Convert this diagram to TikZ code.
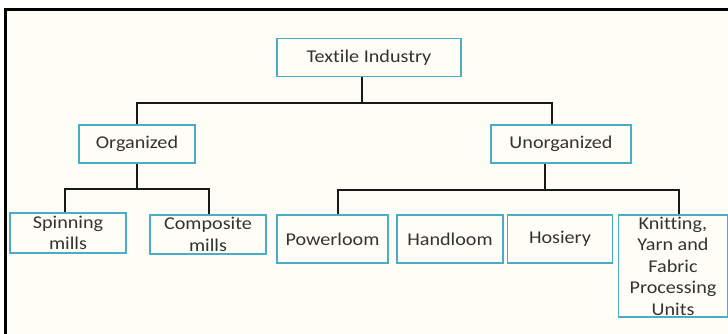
\documentclass[tikz,border=0pt]{standalone}
\usepackage{fontspec}
\setmainfont{Carlito}[FakeStretch=1.12,Ligatures=NoCommon]
\usepackage{xcolor}
\usepackage{tikz}
\usetikzlibrary{positioning,calc}
\definecolor{TexTeal}{HTML}{4BACC6}
\definecolor{TexInk}{HTML}{333333}
\definecolor{TexCream}{HTML}{FFFEF6}
\tikzset{
  unit/.style={draw=TexTeal,line width=1.8pt,fill=TexCream,align=center,inner sep=0pt,
    text=TexInk,font=\fontsize{18}{21.5}\selectfont},
  link/.style={line width=1.8pt,draw=black!90}
}
\begin{document}
\begin{tikzpicture}[x=1pt,y=-1pt]
  \useasboundingbox (0,0) rectangle (728,334);
  % slide frame, open to the right and below
  \fill[TexCream] (5,10) rectangle (728,334);
  \draw[line width=3pt] (5,334) -- (5,10) -- (728,10);
  % levels of the tree
  \node[unit,minimum width=184,minimum height=38] (ti) at (369,57.5) {Textile Industry};
  \node[unit,minimum width=116,minimum height=38] (org) at (137,144) {Organized};
  \node[unit,minimum width=140,minimum height=38] (unorg) at (561,144) {Unorganized};
  \node[unit,minimum width=116,minimum height=40] (spin) at (68,233) {Spinning\\mills};
  \node[unit,minimum width=116,minimum height=39] (comp) at (208,234.5) {Composite\\mills};
  \node[unit,minimum width=111,minimum height=48] (power) at (332.5,239) {Powerloom};
  \node[unit,minimum width=106,minimum height=48] (hand) at (450,239) {Handloom};
  \node[unit,minimum width=105,minimum height=48] (hos) at (560,239) {Hosiery};
  \node[unit,minimum width=109,minimum height=102] (knit) at (673,266)
    {Knitting,\\Yarn and\\Fabric\\Processing\\Units};
  % elbow connectors
  \draw[link] ([xshift=-7pt]ti.south) -- ++(0,26) coordinate (tj);
  \draw[link] (org.north) |- (tj) -| ([xshift=-9pt]unorg.north);
  \draw[link] (org.south) -- ++(0,25) coordinate (oj);
  \draw[link] ([xshift=-3pt]spin.north) |- (oj) -| ([xshift=1pt]comp.north);
  \draw[link] ([xshift=-16pt]unorg.south) -- ++(0,26) coordinate (uj);
  \draw[link] ([xshift=5.5pt]power.north) |- (uj) -| ([xshift=6pt]knit.north);
\end{tikzpicture}
\end{document}
